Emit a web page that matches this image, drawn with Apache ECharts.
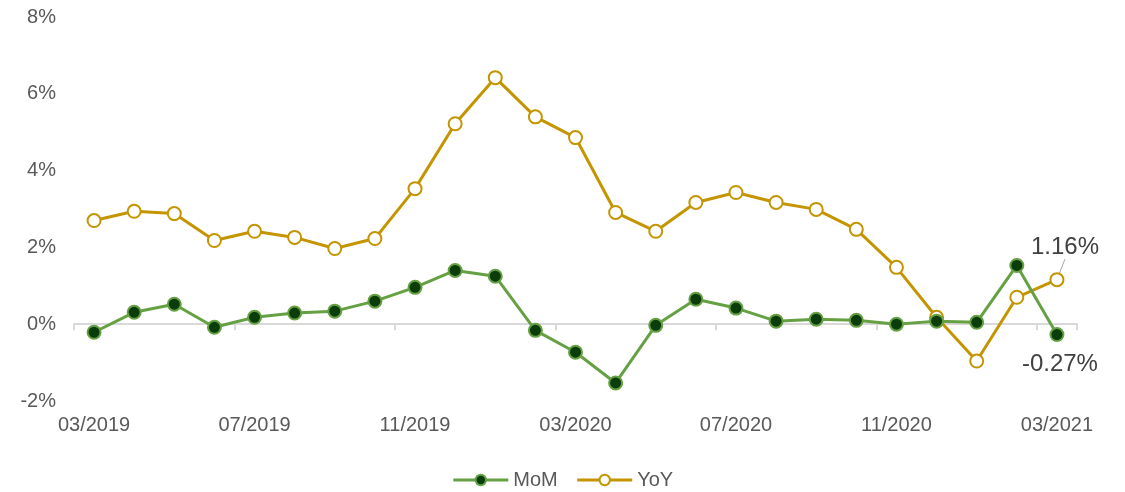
<!DOCTYPE html>
<html>
<head>
<meta charset="utf-8">
<script src="https://cdn.jsdelivr.net/npm/echarts@6/dist/echarts.min.js"></script>
<style>
  html, body { margin: 0; padding: 0; background: #fff; }
  #main { width: 1125px; height: 492px; }
</style>
</head>
<body>
<div id="main"></div>
<script>
// months 03/2019 .. 03/2021
var months = ['03/2019', '04/2019', '05/2019', '06/2019', '07/2019', '08/2019', '09/2019', '10/2019',
    '11/2019', '12/2019', '01/2020', '02/2020', '03/2020', '04/2020', '05/2020', '06/2020',
    '07/2020', '08/2020', '09/2020', '10/2020', '11/2020', '12/2020', '01/2021', '02/2021', '03/2021'];
var mom = [-0.21, 0.31, 0.52, -0.08, 0.18, 0.29, 0.34, 0.60, 0.96, 1.40, 1.25, -0.16, -0.73,
    -1.53, -0.03, 0.65, 0.42, 0.08, 0.13, 0.10, 0.00, 0.08, 0.05, 1.53, -0.27];
var yoy = [2.70, 2.94, 2.88, 2.18, 2.42, 2.26, 1.97, 2.23, 3.53, 5.22, 6.42, 5.40, 4.86,
    2.91, 2.42, 3.17, 3.43, 3.17, 2.99, 2.47, 1.48, 0.18, -0.96, 0.70, 1.16];

var green = '#65A042';
var gold = '#C49500';
var textColor = '#595959';
var font = 'Liberation Sans, Arial';

// only the last point gets a value label
function withLastLabel(arr, label) {
    return arr.map(function (v, i) {
        if (i !== arr.length - 1) return v;
        return { value: v, label: label };
    });
}

var chart = echarts.init(document.getElementById('main'));
chart.setOption({
    animation: false,
    grid: { left: 74, right: 48, top: 17, bottom: 91 },
    legend: {
        bottom: -3,
        left: 'center',
        itemWidth: 55,
        itemHeight: 13,
        itemGap: 18,
        lineStyle: { width: 3 },
        textStyle: { color: textColor, fontSize: 20, fontFamily: font },
        data: ['MoM', 'YoY']
    },
    xAxis: [{
        type: 'category',
        data: months,
        position: 'bottom',
        axisLine: { show: false, onZero: false },
        axisTick: { show: false },
        axisLabel: {
            interval: 3,
            color: textColor,
            fontSize: 20,
            fontFamily: font,
            margin: 14
        }
    }, {
        // zero line with its ticks
        type: 'category',
        data: months,
        position: 'bottom',
        axisLine: { show: true, onZero: true, lineStyle: { color: '#d9d9d9', width: 2 } },
        axisTick: { show: true, interval: 3, length: 6, lineStyle: { color: '#d9d9d9', width: 2 } },
        axisLabel: { show: false }
    }],
    yAxis: {
        type: 'value',
        min: -2,
        max: 8,
        interval: 2,
        axisLine: { show: false },
        axisTick: { show: false },
        splitLine: { show: false },
        axisLabel: {
            formatter: '{value}%',
            color: textColor,
            fontSize: 20,
            fontFamily: font,
            margin: 18
        }
    },
    series: [{
        name: 'MoM',
        type: 'line',
        xAxisIndex: 0,
        data: withLastLabel(mom, {
            show: true,
            position: 'bottom',
            distance: 10,
            offset: [3, 0],
            formatter: '{c}%',
            color: '#404040',
            fontSize: 24,
            fontFamily: font
        }),
        symbol: 'circle',
        symbolSize: 13,
        lineStyle: { color: green, width: 3 },
        itemStyle: { color: '#0A3D0A', borderColor: green, borderWidth: 2 },
        z: 3
    }, {
        name: 'YoY',
        type: 'line',
        xAxisIndex: 0,
        data: withLastLabel(yoy, {
            show: true,
            position: 'top',
            distance: 4,
            formatter: '{c}%',
            color: '#404040',
            fontSize: 24,
            fontFamily: font
        }),
        labelLayout: { dx: 8, dy: -9 },
        labelLine: { show: true, lineStyle: { color: '#a6a6a6', width: 1 } },
        symbol: 'circle',
        symbolSize: 13,
        lineStyle: { color: gold, width: 3 },
        itemStyle: { color: '#ffffff', borderColor: gold, borderWidth: 2 },
        z: 2
    }]
});
</script>
</body>
</html>
